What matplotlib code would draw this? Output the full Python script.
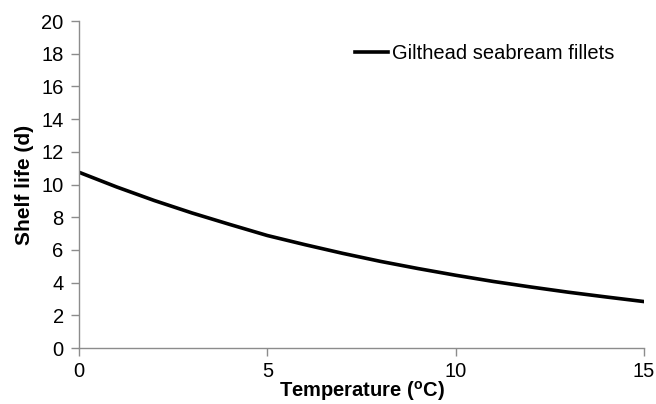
import matplotlib
matplotlib.use('Agg')
import matplotlib.pyplot as plt

plt.rcParams['font.family'] = ['Liberation Sans', 'DejaVu Sans']
plt.rcParams['mathtext.fontset'] = 'custom'
plt.rcParams['mathtext.rm'] = 'Liberation Sans'
plt.rcParams['mathtext.bf'] = 'Liberation Sans:bold'

# Shelf life at each whole degree
temperature = [0, 1, 2, 3, 4, 5, 6, 7, 8, 9, 10, 11, 12, 13, 14, 15]
shelf_life = [10.75, 9.85, 9.02, 8.26, 7.56, 6.88, 6.32, 5.79,
              5.30, 4.86, 4.45, 4.07, 3.73, 3.41, 3.12, 2.84]
series_name = 'Gilthead seabream fillets'

x_ticks = [0, 5, 10, 15]
y_ticks = list(range(0, 21, 2))

fig = plt.figure(figsize=(6.56, 4.04), dpi=100)
ax = fig.add_axes([0.1204, 0.1386, 0.8613, 0.8094])

ax.plot(temperature, shelf_life, color='black', linewidth=2.6, label=series_name)

ax.set_xlim(0, 15)
ax.set_ylim(0, 20)
ax.set_xticks(x_ticks)
ax.set_yticks(y_ticks)

grey = '#8c8c8c'
for side in ['top', 'right']:
    ax.spines[side].set_visible(False)
for side in ['left', 'bottom']:
    ax.spines[side].set_color(grey)
    ax.spines[side].set_linewidth(1.0)
ax.tick_params(axis='both', colors=grey, labelcolor='black', labelsize=14.5,
               length=6, width=1.0, direction='out')
ax.tick_params(axis='x', pad=4)
ax.tick_params(axis='y', pad=5)

ax.set_xlabel(r'Temperature ($^{\mathbf{o}}$C)', fontsize=14.5, fontweight='bold', labelpad=-1.5)
ax.set_ylabel('Shelf life (d)', fontsize=15, fontweight='bold', labelpad=5)

ax.legend(loc='upper left', bbox_to_anchor=(0.475, 0.955), frameon=False, fontsize=14.5,
          handlelength=1.6, handletextpad=0.2, borderaxespad=0)

fig.savefig('out.png', dpi=100)
